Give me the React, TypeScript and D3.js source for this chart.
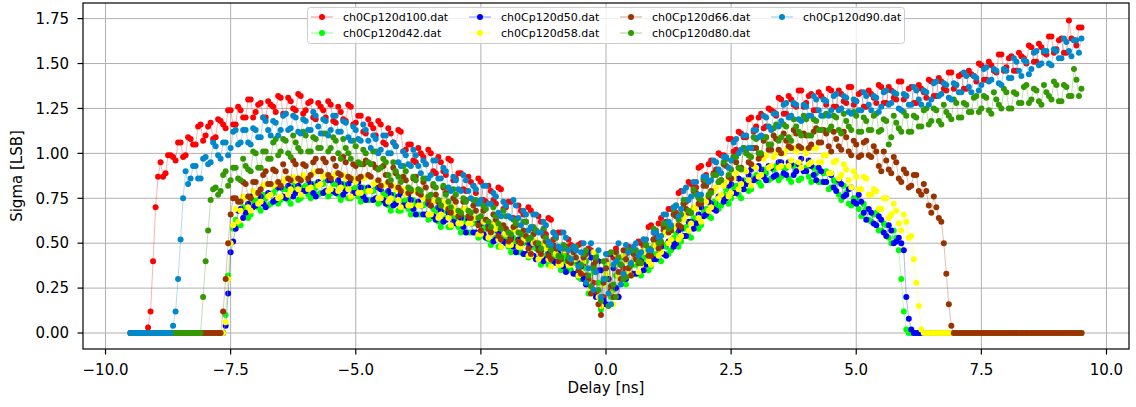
import React from "react";
import * as d3 from "d3";

// Delay scan (ns): main readings at -9.5 .. 9.5 (step 0.1),
// in-between readings at -9.45 .. 9.45 (step 0.1)
const DELAY_START = -9.5;
const DELAY_STEP = 0.1;
const N_MAIN = 191;
const N_MID = 190;
const delays: number[] = d3.range(N_MAIN).map((i) => +(DELAY_START + i * DELAY_STEP).toFixed(2));
const midDelays: number[] = d3.range(N_MID).map((i) => +(DELAY_START + DELAY_STEP / 2 + i * DELAY_STEP).toFixed(2));

// ---- Sigma [LSB] ----
const d100 = [
  0, 0, 0, 0, 0.12, 0.7, 0.95, 0.89, 0.99, 0.96,
  1.06, 0.99, 1.08, 1.05, 1.16, 1.1, 1.17, 1.09, 1.18, 1.14,
  1.24, 1.16, 1.24, 1.2, 1.3, 1.23, 1.28, 1.2, 1.27, 1.23,
  1.31, 1.22, 1.29, 1.24, 1.32, 1.24, 1.29, 1.19, 1.26, 1.2,
  1.27, 1.17, 1.23, 1.18, 1.26, 1.17, 1.21, 1.11, 1.16, 1.1,
  1.16, 1.05, 1.11, 1.04, 1.12, 1.02, 1.05, 0.95, 1.0, 0.94,
  1.0, 0.89, 0.95, 0.88, 0.96, 0.86, 0.89, 0.79, 0.84, 0.78,
  0.84, 0.73, 0.79, 0.72, 0.8, 0.7, 0.73, 0.63, 0.68, 0.62,
  0.68, 0.57, 0.62, 0.55, 0.63, 0.53, 0.56, 0.44, 0.49, 0.41,
  0.5, 0.32, 0.46, 0.22, 0.14, 0.4, 0.24, 0.47, 0.3, 0.44,
  0.47, 0.41, 0.5, 0.48, 0.6, 0.55, 0.64, 0.58, 0.69, 0.67,
  0.79, 0.73, 0.83, 0.81, 0.93, 0.88, 0.96, 0.9, 0.99, 0.97,
  1.08, 1.02, 1.11, 1.09, 1.2, 1.15, 1.22, 1.15, 1.24, 1.21,
  1.3, 1.22, 1.3, 1.26, 1.35, 1.28, 1.33, 1.24, 1.32, 1.27,
  1.35, 1.26, 1.33, 1.28, 1.37, 1.29, 1.34, 1.26, 1.33, 1.28,
  1.37, 1.28, 1.35, 1.3, 1.4, 1.32, 1.37, 1.28, 1.36, 1.31,
  1.4, 1.32, 1.4, 1.35, 1.45, 1.38, 1.44, 1.36, 1.44, 1.4,
  1.49, 1.41, 1.49, 1.45, 1.55, 1.48, 1.54, 1.46, 1.54, 1.5,
  1.59, 1.51, 1.59, 1.55, 1.65, 1.58, 1.64, 1.56, 1.64, 1.6,
  1.7,
];
const d100Mid = [
  0, 0, 0, 0.03, 0.4, 0.87, 0.87, 0.99, 0.98, 1.06,
  0.98, 1.09, 1.05, 1.15, 1.07, 1.15, 1.08, 1.19, 1.16, 1.24,
  1.16, 1.26, 1.2, 1.3, 1.2, 1.27, 1.2, 1.29, 1.26, 1.32,
  1.22, 1.31, 1.25, 1.33, 1.22, 1.28, 1.2, 1.28, 1.24, 1.29,
  1.18, 1.26, 1.19, 1.27, 1.16, 1.21, 1.12, 1.19, 1.14, 1.18,
  1.06, 1.14, 1.06, 1.13, 1.01, 1.05, 0.96, 1.03, 0.98, 1.02,
  0.9, 0.98, 0.9, 0.97, 0.85, 0.89, 0.8, 0.87, 0.82, 0.86,
  0.74, 0.82, 0.74, 0.81, 0.69, 0.73, 0.64, 0.71, 0.66, 0.7,
  0.58, 0.65, 0.57, 0.64, 0.52, 0.56, 0.46, 0.52, 0.46, 0.49,
  0.38, 0.47, 0.28, 0.35, 0.2, 0.3, 0.42, 0.2, 0.36, 0.48,
  0.4, 0.51, 0.48, 0.59, 0.52, 0.61, 0.57, 0.69, 0.69, 0.78,
  0.72, 0.84, 0.81, 0.92, 0.85, 0.94, 0.89, 1.0, 0.99, 1.08,
  1.01, 1.12, 1.09, 1.19, 1.12, 1.2, 1.14, 1.25, 1.23, 1.31,
  1.22, 1.32, 1.27, 1.35, 1.26, 1.32, 1.24, 1.34, 1.3, 1.36,
  1.26, 1.35, 1.29, 1.37, 1.27, 1.33, 1.26, 1.35, 1.31, 1.38,
  1.28, 1.37, 1.31, 1.4, 1.3, 1.36, 1.28, 1.38, 1.34, 1.41,
  1.32, 1.42, 1.36, 1.45, 1.36, 1.43, 1.36, 1.46, 1.43, 1.5,
  1.41, 1.51, 1.46, 1.55, 1.46, 1.53, 1.46, 1.56, 1.53, 1.6,
  1.51, 1.61, 1.56, 1.65, 1.56, 1.63, 1.56, 1.74, 1.63, 1.7,
];

const d42 = [
  0, 0, 0, 0, 0, 0, 0, 0, 0, 0,
  0, 0, 0, 0, 0, 0, 0, 0, 0, 0.1,
  0.5, 0.63, 0.6, 0.68, 0.66, 0.74, 0.68, 0.75, 0.72, 0.8,
  0.74, 0.8, 0.72, 0.79, 0.75, 0.82, 0.75, 0.81, 0.78, 0.85,
  0.78, 0.83, 0.74, 0.8, 0.75, 0.81, 0.73, 0.79, 0.74, 0.81,
  0.73, 0.77, 0.68, 0.73, 0.68, 0.74, 0.66, 0.71, 0.66, 0.72,
  0.64, 0.68, 0.59, 0.64, 0.59, 0.64, 0.56, 0.61, 0.56, 0.62,
  0.54, 0.58, 0.49, 0.53, 0.48, 0.53, 0.45, 0.5, 0.45, 0.51,
  0.43, 0.47, 0.38, 0.43, 0.38, 0.43, 0.35, 0.4, 0.35, 0.4,
  0.3, 0.4, 0.25, 0.43, 0.13, 0.38, 0.2, 0.32, 0.42, 0.27,
  0.32, 0.38, 0.32, 0.39, 0.37, 0.44, 0.4, 0.48, 0.46, 0.56,
  0.51, 0.59, 0.53, 0.62, 0.6, 0.69, 0.64, 0.72, 0.71, 0.8,
  0.75, 0.82, 0.75, 0.83, 0.8, 0.88, 0.82, 0.89, 0.86, 0.93,
  0.87, 0.92, 0.84, 0.9, 0.86, 0.92, 0.84, 0.89, 0.84, 0.9,
  0.81, 0.84, 0.74, 0.78, 0.71, 0.75, 0.65, 0.69, 0.62, 0.67,
  0.57, 0.6, 0.5, 0.53, 0.3, 0.02, 0, 0, 0, 0,
  0, 0, 0, 0, 0, 0, 0, 0, 0, 0,
  0, 0, 0, 0, 0, 0, 0, 0, 0, 0,
  0, 0, 0, 0, 0, 0, 0, 0, 0, 0,
  0,
];
const d42Mid = [
  0, 0, 0, 0, 0, 0, 0, 0, 0, 0,
  0, 0, 0, 0, 0, 0, 0, 0, 0, 0.32,
  0.58, 0.6, 0.7, 0.64, 0.72, 0.7, 0.77, 0.71, 0.78, 0.72,
  0.8, 0.74, 0.82, 0.74, 0.81, 0.77, 0.83, 0.77, 0.83, 0.76,
  0.83, 0.77, 0.83, 0.75, 0.8, 0.76, 0.81, 0.74, 0.79, 0.72,
  0.78, 0.71, 0.77, 0.68, 0.73, 0.69, 0.74, 0.66, 0.71, 0.63,
  0.69, 0.62, 0.68, 0.59, 0.64, 0.59, 0.64, 0.56, 0.61, 0.53,
  0.59, 0.52, 0.57, 0.48, 0.53, 0.48, 0.53, 0.45, 0.5, 0.42,
  0.48, 0.41, 0.47, 0.38, 0.43, 0.38, 0.43, 0.35, 0.39, 0.31,
  0.36, 0.22, 0.34, 0.28, 0.16, 0.44, 0.24, 0.39, 0.3, 0.36,
  0.38, 0.33, 0.42, 0.35, 0.43, 0.41, 0.49, 0.44, 0.53, 0.48,
  0.58, 0.54, 0.64, 0.58, 0.67, 0.65, 0.73, 0.69, 0.77, 0.72,
  0.81, 0.77, 0.85, 0.79, 0.86, 0.84, 0.91, 0.85, 0.91, 0.85,
  0.92, 0.86, 0.93, 0.85, 0.91, 0.87, 0.92, 0.84, 0.89, 0.8,
  0.85, 0.77, 0.82, 0.72, 0.75, 0.69, 0.72, 0.63, 0.66, 0.57,
  0.61, 0.53, 0.57, 0.46, 0.12, 0, 0, 0, 0, 0,
  0, 0, 0, 0, 0, 0, 0, 0, 0, 0,
  0, 0, 0, 0, 0, 0, 0, 0, 0, 0,
  0, 0, 0, 0, 0, 0, 0, 0, 0, 0,
];

const d50 = [
  0, 0, 0, 0, 0, 0, 0, 0, 0, 0,
  0, 0, 0, 0, 0, 0, 0, 0, 0, 0.04,
  0.45, 0.58, 0.69, 0.67, 0.76, 0.71, 0.76, 0.7, 0.77, 0.74,
  0.81, 0.75, 0.81, 0.78, 0.85, 0.79, 0.83, 0.76, 0.83, 0.79,
  0.85, 0.78, 0.83, 0.79, 0.85, 0.78, 0.81, 0.74, 0.79, 0.75,
  0.8, 0.72, 0.77, 0.72, 0.78, 0.71, 0.74, 0.66, 0.71, 0.66,
  0.71, 0.63, 0.68, 0.63, 0.69, 0.61, 0.64, 0.56, 0.61, 0.56,
  0.61, 0.53, 0.58, 0.52, 0.58, 0.5, 0.53, 0.45, 0.5, 0.44,
  0.49, 0.41, 0.46, 0.41, 0.47, 0.39, 0.42, 0.34, 0.39, 0.33,
  0.37, 0.27, 0.42, 0.2, 0.35, 0.16, 0.44, 0.25, 0.38, 0.3,
  0.38, 0.33, 0.4, 0.38, 0.47, 0.41, 0.48, 0.43, 0.51, 0.5,
  0.58, 0.54, 0.62, 0.61, 0.7, 0.66, 0.72, 0.68, 0.76, 0.75,
  0.83, 0.78, 0.85, 0.83, 0.91, 0.86, 0.91, 0.85, 0.92, 0.88,
  0.95, 0.88, 0.94, 0.9, 0.97, 0.9, 0.93, 0.85, 0.9, 0.84,
  0.88, 0.79, 0.83, 0.77, 0.81, 0.72, 0.73, 0.63, 0.67, 0.6,
  0.63, 0.54, 0.57, 0.51, 0.5, 0.2, 0.02, 0, 0, 0,
  0, 0, 0, 0, 0, 0, 0, 0, 0, 0,
  0, 0, 0, 0, 0, 0, 0, 0, 0, 0,
  0, 0, 0, 0, 0, 0, 0, 0, 0, 0,
  0,
];
const d50Mid = [
  0, 0, 0, 0, 0, 0, 0, 0, 0, 0,
  0, 0, 0, 0, 0, 0, 0, 0, 0, 0.22,
  0.51, 0.68, 0.64, 0.72, 0.7, 0.78, 0.72, 0.78, 0.73, 0.81,
  0.76, 0.82, 0.76, 0.82, 0.79, 0.85, 0.78, 0.84, 0.78, 0.85,
  0.79, 0.85, 0.77, 0.83, 0.78, 0.84, 0.76, 0.81, 0.74, 0.81,
  0.74, 0.79, 0.71, 0.76, 0.71, 0.77, 0.69, 0.73, 0.66, 0.72,
  0.65, 0.7, 0.62, 0.67, 0.62, 0.67, 0.59, 0.63, 0.56, 0.62,
  0.55, 0.6, 0.51, 0.56, 0.51, 0.56, 0.48, 0.52, 0.44, 0.5,
  0.43, 0.48, 0.4, 0.45, 0.4, 0.45, 0.37, 0.41, 0.33, 0.39,
  0.3, 0.45, 0.24, 0.4, 0.18, 0.3, 0.36, 0.2, 0.43, 0.33,
  0.33, 0.41, 0.35, 0.43, 0.41, 0.49, 0.44, 0.51, 0.48, 0.57,
  0.54, 0.62, 0.58, 0.66, 0.65, 0.73, 0.69, 0.76, 0.73, 0.82,
  0.78, 0.86, 0.8, 0.88, 0.85, 0.93, 0.87, 0.93, 0.87, 0.95,
  0.89, 0.95, 0.88, 0.94, 0.9, 0.96, 0.88, 0.92, 0.84, 0.89,
  0.81, 0.85, 0.76, 0.8, 0.73, 0.77, 0.67, 0.69, 0.61, 0.65,
  0.56, 0.6, 0.5, 0.53, 0.46, 0.08, 0, 0, 0, 0,
  0, 0, 0, 0, 0, 0, 0, 0, 0, 0,
  0, 0, 0, 0, 0, 0, 0, 0, 0, 0,
  0, 0, 0, 0, 0, 0, 0, 0, 0, 0,
];

const d58 = [
  0, 0, 0, 0, 0, 0, 0, 0, 0, 0,
  0, 0, 0, 0, 0, 0, 0, 0, 0, 0.06,
  0.5, 0.69, 0.68, 0.75, 0.68, 0.77, 0.73, 0.83, 0.77, 0.83,
  0.76, 0.86, 0.8, 0.85, 0.77, 0.86, 0.81, 0.9, 0.83, 0.88,
  0.8, 0.89, 0.81, 0.86, 0.76, 0.84, 0.78, 0.87, 0.79, 0.84,
  0.75, 0.83, 0.75, 0.8, 0.7, 0.77, 0.71, 0.79, 0.71, 0.75,
  0.66, 0.74, 0.66, 0.7, 0.6, 0.67, 0.61, 0.69, 0.61, 0.64,
  0.55, 0.63, 0.55, 0.58, 0.48, 0.55, 0.49, 0.57, 0.48, 0.52,
  0.43, 0.51, 0.43, 0.47, 0.37, 0.44, 0.38, 0.46, 0.38, 0.41,
  0.34, 0.43, 0.24, 0.39, 0.15, 0.33, 0.22, 0.44, 0.28, 0.4,
  0.32, 0.43, 0.38, 0.45, 0.38, 0.48, 0.45, 0.57, 0.52, 0.6,
  0.54, 0.66, 0.61, 0.69, 0.62, 0.73, 0.7, 0.81, 0.77, 0.84,
  0.78, 0.89, 0.83, 0.9, 0.82, 0.92, 0.88, 0.99, 0.93, 1.0,
  0.93, 1.02, 0.96, 1.01, 0.92, 1.0, 0.95, 1.03, 0.95, 0.99,
  0.89, 0.96, 0.88, 0.91, 0.81, 0.87, 0.8, 0.86, 0.77, 0.79,
  0.69, 0.75, 0.66, 0.68, 0.57, 0.62, 0.54, 0.28, 0.02, 0,
  0, 0, 0, 0, 0, 0, 0, 0, 0, 0,
  0, 0, 0, 0, 0, 0, 0, 0, 0, 0,
  0, 0, 0, 0, 0, 0, 0, 0, 0, 0,
  0,
];
const d58Mid = [
  0, 0, 0, 0, 0, 0, 0, 0, 0, 0,
  0, 0, 0, 0, 0, 0, 0, 0, 0, 0.3,
  0.6, 0.62, 0.76, 0.7, 0.79, 0.72, 0.82, 0.76, 0.82, 0.75,
  0.84, 0.77, 0.87, 0.8, 0.88, 0.8, 0.89, 0.82, 0.87, 0.79,
  0.87, 0.79, 0.88, 0.8, 0.86, 0.78, 0.86, 0.79, 0.83, 0.75,
  0.82, 0.73, 0.82, 0.74, 0.8, 0.71, 0.79, 0.71, 0.75, 0.66,
  0.73, 0.64, 0.73, 0.64, 0.7, 0.61, 0.69, 0.61, 0.64, 0.55,
  0.62, 0.53, 0.61, 0.52, 0.58, 0.49, 0.57, 0.48, 0.52, 0.43,
  0.5, 0.41, 0.5, 0.41, 0.47, 0.38, 0.46, 0.38, 0.41, 0.32,
  0.4, 0.3, 0.45, 0.2, 0.27, 0.38, 0.16, 0.32, 0.43, 0.34,
  0.4, 0.34, 0.46, 0.4, 0.49, 0.43, 0.55, 0.5, 0.58, 0.52,
  0.63, 0.57, 0.7, 0.64, 0.74, 0.68, 0.79, 0.75, 0.82, 0.76,
  0.86, 0.8, 0.91, 0.85, 0.93, 0.87, 0.97, 0.92, 0.98, 0.92,
  1.0, 0.93, 1.03, 0.95, 1.02, 0.94, 1.03, 0.95, 0.99, 0.89,
  0.95, 0.86, 0.94, 0.85, 0.9, 0.8, 0.87, 0.77, 0.8, 0.69,
  0.75, 0.64, 0.72, 0.61, 0.66, 0.53, 0.41, 0.15, 0, 0,
  0, 0, 0, 0, 0, 0, 0, 0, 0, 0,
  0, 0, 0, 0, 0, 0, 0, 0, 0, 0,
  0, 0, 0, 0, 0, 0, 0, 0, 0, 0,
];

const d66 = [
  0, 0, 0, 0, 0, 0, 0, 0, 0, 0,
  0, 0, 0, 0, 0, 0, 0, 0, 0, 0.3,
  0.66, 0.75, 0.73, 0.83, 0.75, 0.84, 0.8, 0.9, 0.83, 0.9,
  0.82, 0.9, 0.85, 0.94, 0.85, 0.93, 0.88, 0.97, 0.9, 0.95,
  0.86, 0.93, 0.88, 0.95, 0.86, 0.93, 0.87, 0.96, 0.87, 0.92,
  0.82, 0.88, 0.82, 0.89, 0.79, 0.85, 0.79, 0.87, 0.77, 0.81,
  0.71, 0.77, 0.71, 0.78, 0.67, 0.73, 0.66, 0.74, 0.64, 0.68,
  0.57, 0.63, 0.56, 0.63, 0.52, 0.58, 0.52, 0.6, 0.5, 0.54,
  0.44, 0.5, 0.44, 0.51, 0.41, 0.47, 0.41, 0.48, 0.39, 0.42,
  0.33, 0.44, 0.22, 0.4, 0.1, 0.36, 0.26, 0.45, 0.3, 0.41,
  0.32, 0.41, 0.39, 0.49, 0.43, 0.52, 0.5, 0.62, 0.57, 0.65,
  0.59, 0.69, 0.67, 0.78, 0.72, 0.82, 0.79, 0.91, 0.85, 0.93,
  0.86, 0.95, 0.92, 1.02, 0.94, 1.03, 0.99, 1.09, 1.02, 1.08,
  1.0, 1.07, 1.03, 1.11, 1.03, 1.1, 1.05, 1.14, 1.06, 1.11,
  1.01, 1.08, 1.02, 1.09, 0.99, 1.05, 0.99, 1.07, 0.98, 1.01,
  0.9, 0.96, 0.89, 0.95, 0.84, 0.89, 0.82, 0.88, 0.77, 0.79,
  0.67, 0.7, 0.62, 0.33, 0.04, 0, 0, 0, 0, 0,
  0, 0, 0, 0, 0, 0, 0, 0, 0, 0,
  0, 0, 0, 0, 0, 0, 0, 0, 0, 0,
  0,
];
const d66Mid = [
  0, 0, 0, 0, 0, 0, 0, 0, 0, 0,
  0, 0, 0, 0, 0, 0, 0, 0, 0.12, 0.5,
  0.75, 0.73, 0.84, 0.76, 0.84, 0.78, 0.88, 0.83, 0.91, 0.84,
  0.94, 0.86, 0.96, 0.86, 0.94, 0.86, 0.95, 0.9, 0.97, 0.88,
  0.97, 0.89, 0.98, 0.87, 0.94, 0.86, 0.94, 0.88, 0.94, 0.85,
  0.93, 0.84, 0.92, 0.81, 0.87, 0.78, 0.86, 0.78, 0.84, 0.74,
  0.82, 0.73, 0.81, 0.69, 0.75, 0.65, 0.73, 0.65, 0.71, 0.6,
  0.68, 0.58, 0.66, 0.54, 0.6, 0.51, 0.59, 0.51, 0.57, 0.47,
  0.55, 0.46, 0.54, 0.43, 0.49, 0.4, 0.47, 0.4, 0.45, 0.35,
  0.42, 0.3, 0.38, 0.16, 0.28, 0.44, 0.2, 0.34, 0.46, 0.36,
  0.44, 0.39, 0.5, 0.43, 0.52, 0.47, 0.59, 0.56, 0.66, 0.6,
  0.72, 0.67, 0.79, 0.72, 0.82, 0.76, 0.88, 0.84, 0.94, 0.87,
  0.98, 0.92, 1.03, 0.95, 1.03, 0.97, 1.07, 1.02, 1.1, 1.02,
  1.11, 1.04, 1.13, 1.04, 1.11, 1.03, 1.12, 1.06, 1.13, 1.04,
  1.12, 1.04, 1.12, 1.01, 1.07, 0.98, 1.06, 0.99, 1.04, 0.93,
  1.01, 0.91, 0.98, 0.86, 0.91, 0.81, 0.88, 0.79, 0.83, 0.71,
  0.76, 0.64, 0.5, 0.16, 0, 0, 0, 0, 0, 0,
  0, 0, 0, 0, 0, 0, 0, 0, 0, 0,
  0, 0, 0, 0, 0, 0, 0, 0, 0, 0,
];

const d80 = [
  0, 0, 0, 0, 0, 0, 0, 0, 0, 0,
  0, 0, 0, 0, 0, 0.4, 0.74, 0.81, 0.79, 0.9,
  0.85, 0.92, 0.85, 0.93, 0.9, 1.0, 0.92, 1.01, 0.97, 1.08,
  1.01, 1.07, 0.98, 1.06, 1.01, 1.1, 1.01, 1.08, 1.03, 1.11,
  1.03, 1.07, 0.97, 1.03, 0.97, 1.04, 0.94, 1.0, 0.94, 1.01,
  0.92, 0.95, 0.85, 0.9, 0.84, 0.9, 0.8, 0.85, 0.79, 0.86,
  0.77, 0.81, 0.71, 0.77, 0.7, 0.77, 0.67, 0.73, 0.67, 0.74,
  0.65, 0.69, 0.59, 0.65, 0.58, 0.65, 0.55, 0.61, 0.55, 0.62,
  0.53, 0.57, 0.47, 0.53, 0.46, 0.53, 0.42, 0.47, 0.41, 0.48,
  0.38, 0.46, 0.26, 0.42, 0.18, 0.3, 0.45, 0.2, 0.38, 0.31,
  0.38, 0.46, 0.39, 0.49, 0.46, 0.57, 0.51, 0.61, 0.59, 0.71,
  0.66, 0.74, 0.67, 0.77, 0.74, 0.85, 0.78, 0.88, 0.85, 0.97,
  0.91, 0.98, 0.91, 1.0, 0.98, 1.08, 1.0, 1.09, 1.05, 1.16,
  1.09, 1.15, 1.07, 1.15, 1.1, 1.19, 1.1, 1.18, 1.13, 1.22,
  1.15, 1.2, 1.11, 1.18, 1.13, 1.21, 1.12, 1.18, 1.13, 1.22,
  1.13, 1.18, 1.09, 1.17, 1.12, 1.21, 1.12, 1.2, 1.15, 1.25,
  1.18, 1.24, 1.16, 1.23, 1.19, 1.28, 1.2, 1.27, 1.23, 1.32,
  1.25, 1.31, 1.22, 1.3, 1.25, 1.34, 1.25, 1.33, 1.28, 1.38,
  1.3, 1.35, 1.27, 1.34, 1.3, 1.38, 1.29, 1.37, 1.32, 1.41,
  1.36,
];
const d80Mid = [
  0, 0, 0, 0, 0, 0, 0, 0, 0, 0,
  0, 0, 0, 0, 0.2, 0.57, 0.8, 0.77, 0.88, 0.82,
  0.92, 0.86, 0.97, 0.91, 1.01, 0.92, 1.01, 0.97, 1.06, 0.99,
  1.08, 1.0, 1.1, 1.03, 1.12, 1.01, 1.09, 1.03, 1.11, 1.01,
  1.09, 1.0, 1.08, 1.0, 1.07, 0.95, 1.02, 0.95, 1.01, 0.91,
  0.97, 0.88, 0.95, 0.87, 0.93, 0.81, 0.87, 0.8, 0.86, 0.76,
  0.83, 0.74, 0.82, 0.73, 0.8, 0.68, 0.75, 0.68, 0.74, 0.64,
  0.71, 0.62, 0.7, 0.61, 0.68, 0.56, 0.63, 0.56, 0.62, 0.52,
  0.59, 0.5, 0.58, 0.49, 0.56, 0.43, 0.49, 0.42, 0.48, 0.37,
  0.44, 0.32, 0.36, 0.24, 0.4, 0.15, 0.27, 0.42, 0.3, 0.46,
  0.46, 0.4, 0.52, 0.47, 0.58, 0.5, 0.61, 0.58, 0.69, 0.63,
  0.74, 0.68, 0.8, 0.75, 0.86, 0.77, 0.88, 0.84, 0.95, 0.88,
  0.98, 0.92, 1.03, 0.99, 1.09, 1.0, 1.09, 1.05, 1.14, 1.07,
  1.16, 1.09, 1.19, 1.12, 1.21, 1.1, 1.19, 1.13, 1.21, 1.13,
  1.21, 1.13, 1.22, 1.15, 1.23, 1.12, 1.2, 1.13, 1.21, 1.12,
  1.19, 1.05, 1.21, 1.14, 1.23, 1.12, 1.21, 1.15, 1.24, 1.16,
  1.25, 1.18, 1.27, 1.21, 1.3, 1.2, 1.28, 1.23, 1.31, 1.23,
  1.32, 1.24, 1.34, 1.27, 1.36, 1.25, 1.34, 1.28, 1.37, 1.28,
  1.36, 1.29, 1.38, 1.32, 1.4, 1.29, 1.38, 1.32, 1.47, 1.32,
];

const d90 = [
  0, 0, 0, 0, 0, 0, 0, 0, 0, 0.12,
  0.52, 0.9, 0.86, 0.93, 0.86, 0.98, 0.95, 1.04, 0.97, 1.06,
  1.03, 1.13, 1.06, 1.13, 1.05, 1.13, 1.09, 1.18, 1.1, 1.17,
  1.13, 1.22, 1.14, 1.2, 1.11, 1.18, 1.13, 1.21, 1.11, 1.18,
  1.13, 1.21, 1.12, 1.17, 1.07, 1.13, 1.07, 1.13, 1.03, 1.08,
  1.02, 1.1, 1.0, 1.04, 0.93, 0.99, 0.93, 0.99, 0.89, 0.94,
  0.88, 0.96, 0.86, 0.9, 0.79, 0.85, 0.79, 0.85, 0.75, 0.8,
  0.74, 0.82, 0.72, 0.76, 0.65, 0.71, 0.64, 0.71, 0.6, 0.66,
  0.59, 0.66, 0.56, 0.6, 0.49, 0.54, 0.47, 0.53, 0.41, 0.46,
  0.45, 0.28, 0.5, 0.34, 0.2, 0.44, 0.16, 0.4, 0.27, 0.49,
  0.39, 0.5, 0.45, 0.52, 0.46, 0.56, 0.54, 0.66, 0.6, 0.71,
  0.69, 0.81, 0.76, 0.84, 0.77, 0.87, 0.85, 0.95, 0.89, 0.98,
  0.96, 1.08, 1.02, 1.1, 1.03, 1.13, 1.1, 1.2, 1.13, 1.22,
  1.18, 1.28, 1.21, 1.27, 1.18, 1.26, 1.21, 1.3, 1.21, 1.29,
  1.24, 1.33, 1.25, 1.31, 1.22, 1.29, 1.24, 1.32, 1.24, 1.31,
  1.26, 1.35, 1.28, 1.33, 1.24, 1.32, 1.27, 1.35, 1.27, 1.34,
  1.3, 1.4, 1.33, 1.38, 1.3, 1.38, 1.34, 1.43, 1.34, 1.42,
  1.38, 1.48, 1.41, 1.46, 1.38, 1.46, 1.42, 1.51, 1.43, 1.51,
  1.47, 1.57, 1.5, 1.57, 1.49, 1.57, 1.53, 1.62, 1.54, 1.63,
  1.64,
];
const d90Mid = [
  0, 0, 0, 0, 0, 0, 0, 0, 0.04, 0.3,
  0.75, 0.83, 0.93, 0.86, 0.97, 0.94, 1.06, 0.99, 1.06, 0.99,
  1.12, 1.05, 1.13, 1.06, 1.14, 1.09, 1.2, 1.13, 1.18, 1.1,
  1.21, 1.13, 1.21, 1.12, 1.19, 1.13, 1.23, 1.15, 1.19, 1.1,
  1.21, 1.12, 1.18, 1.09, 1.15, 1.08, 1.16, 1.07, 1.1, 1.0,
  1.1, 1.0, 1.06, 0.95, 1.01, 0.94, 1.02, 0.93, 0.96, 0.86,
  0.96, 0.86, 0.92, 0.81, 0.87, 0.8, 0.88, 0.79, 0.82, 0.72,
  0.82, 0.72, 0.78, 0.67, 0.73, 0.65, 0.74, 0.64, 0.68, 0.57,
  0.66, 0.56, 0.62, 0.51, 0.56, 0.48, 0.56, 0.46, 0.48, 0.37,
  0.5, 0.36, 0.24, 0.46, 0.3, 0.22, 0.38, 0.5, 0.33, 0.45,
  0.48, 0.43, 0.52, 0.46, 0.56, 0.53, 0.66, 0.62, 0.7, 0.65,
  0.79, 0.74, 0.84, 0.77, 0.87, 0.84, 0.96, 0.91, 0.98, 0.92,
  1.06, 1.0, 1.1, 1.03, 1.13, 1.09, 1.21, 1.15, 1.22, 1.15,
  1.27, 1.2, 1.28, 1.19, 1.27, 1.21, 1.32, 1.24, 1.3, 1.21,
  1.32, 1.24, 1.32, 1.23, 1.3, 1.24, 1.34, 1.27, 1.32, 1.23,
  1.34, 1.27, 1.34, 1.25, 1.33, 1.27, 1.37, 1.3, 1.35, 1.27,
  1.39, 1.32, 1.39, 1.31, 1.39, 1.34, 1.45, 1.37, 1.43, 1.35,
  1.47, 1.4, 1.47, 1.39, 1.47, 1.42, 1.53, 1.46, 1.52, 1.44,
  1.56, 1.49, 1.57, 1.5, 1.58, 1.53, 1.64, 1.57, 1.63, 1.56,
];

const seriesNames = [
  "ch0Cp120d100.dat",
  "ch0Cp120d42.dat",
  "ch0Cp120d50.dat",
  "ch0Cp120d58.dat",
  "ch0Cp120d66.dat",
  "ch0Cp120d80.dat",
  "ch0Cp120d90.dat",
];
const seriesMain = [d100, d42, d50, d58, d66, d80, d90];
const seriesMid = [d100Mid, d42Mid, d50Mid, d58Mid, d66Mid, d80Mid, d90Mid];
const seriesColors = ["#ff0000", "#00ff00", "#0000ff", "#ffff00", "#993300", "#339900", "#0088cc"];

const xTicks = [-10, -7.5, -5, -2.5, 0, 2.5, 5, 7.5, 10];
const yTicks = [0, 0.25, 0.5, 0.75, 1.0, 1.25, 1.5, 1.75];

const FONT = "DejaVu Sans, sans-serif";

type Pt = { d: number; v: number };

function mergeSeries(main: number[], mid: number[]): Pt[] {
  const pts: Pt[] = [];
  main.forEach((v, i) => {
    pts.push({ d: delays[i], v });
    if (i < mid.length) pts.push({ d: midDelays[i], v: mid[i] });
  });
  return pts;
}

export default function App() {
  const W = 1136;
  const H = 407;
  const left = 83;
  const right = 1129;
  const top = 3;
  const bottom = 349;

  const x = d3.scaleLinear().domain([-10.45, 10.45]).range([left, right]);
  const y = d3.scaleLinear().domain([-0.089, 1.837]).range([bottom, top]);
  const fmtX = d3.format(".1f");
  const fmtY = d3.format(".2f");

  const line = d3
    .line<Pt>()
    .x((p) => x(p.d))
    .y((p) => y(p.v));

  const data = seriesMain.map((m, i) => mergeSeries(m, seriesMid[i]));

  // legend layout: matplotlib fills columns first (ncol = 4)
  const legendCols = [322, 480, 631, 782];
  const legendRows = [17, 33];

  return (
    <svg
      width={W}
      height={H}
      viewBox={`0 0 ${W} ${H}`}
      style={{ position: "absolute", left: 0, top: 0, background: "#fff" }}
      fontFamily={FONT}
    >
      <rect x={0} y={0} width={W} height={H} fill="#fff" />
      <defs>
        <clipPath id="plotClip">
          <rect x={left} y={top} width={right - left} height={bottom - top} />
        </clipPath>
      </defs>

      {/* grid */}
      <g stroke="#b0b0b0" strokeWidth={1}>
        {xTicks.map((t) => (
          <line key={"gx" + t} x1={x(t)} x2={x(t)} y1={top} y2={bottom} />
        ))}
        {yTicks.map((t) => (
          <line key={"gy" + t} x1={left} x2={right} y1={y(t)} y2={y(t)} />
        ))}
      </g>

      {/* data */}
      <g clipPath="url(#plotClip)">
        {data.map((pts, si) => (
          <g key={seriesNames[si]}>
            <path d={line(pts) || ""} fill="none" stroke={seriesColors[si]} strokeOpacity={0.3} strokeWidth={1} />
            {pts.map((p, i) => (
              <circle key={i} cx={x(p.d)} cy={y(p.v)} r={3} fill={seriesColors[si]} />
            ))}
          </g>
        ))}
      </g>

      {/* frame */}
      <rect x={left} y={top} width={right - left} height={bottom - top} fill="none" stroke="#000" strokeWidth={1.2} />

      {/* x ticks */}
      {xTicks.map((t) => (
        <g key={"tx" + t}>
          <line x1={x(t)} x2={x(t)} y1={bottom} y2={bottom + 5.5} stroke="#000" strokeWidth={1.2} />
          <text x={x(t)} y={375} fontSize={15} textAnchor="middle" fill="#000">
            {fmtX(t)}
          </text>
        </g>
      ))}
      {/* y ticks */}
      {yTicks.map((t) => (
        <g key={"ty" + t}>
          <line x1={left - 5.5} x2={left} y1={y(t)} y2={y(t)} stroke="#000" strokeWidth={1.2} />
          <text x={69} y={y(t) + 5.3} fontSize={15} textAnchor="end" fill="#000">
            {fmtY(t)}
          </text>
        </g>
      ))}

      {/* axis labels */}
      <text x={606} y={393} fontSize={15} textAnchor="middle" fill="#000">
        Delay [ns]
      </text>
      <text transform="translate(22,176) rotate(-90)" fontSize={15} textAnchor="middle" fill="#000">
        Sigma [LSB]
      </text>

      {/* legend */}
      <rect x={307.5} y={7.5} width={597} height={36} rx={3} fill="#fff" fillOpacity={0.8} stroke="#cccccc" strokeWidth={1} />
      {seriesNames.map((name, si) => {
        const col = Math.floor(si / 2);
        const row = si % 2;
        const cx = legendCols[col];
        const cy = legendRows[row];
        return (
          <g key={"lg" + name}>
            <line x1={cx - 11} x2={cx + 11} y1={cy} y2={cy} stroke={seriesColors[si]} strokeOpacity={0.3} strokeWidth={1.5} />
            <circle cx={cx} cy={cy} r={3} fill={seriesColors[si]} />
            <text x={cx + 21} y={cy + 4} fontSize={11} fill="#000">
              {name}
            </text>
          </g>
        );
      })}
    </svg>
  );
}
